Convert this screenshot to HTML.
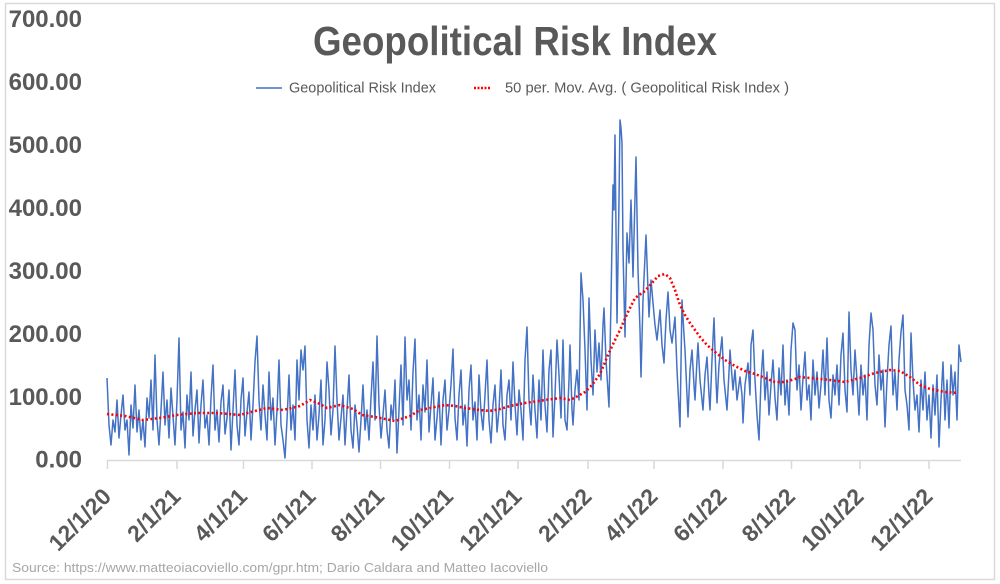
<!DOCTYPE html>
<html>
<head>
<meta charset="utf-8">
<style>
  html, body { margin: 0; padding: 0; background: #ffffff; }
  svg { display: block; }
  .ylab { font-family: "Liberation Sans", sans-serif; font-weight: bold; font-size: 24px; fill: #595959; }
  .xlab { font-family: "Liberation Sans", sans-serif; font-weight: bold; font-size: 23px; fill: #595959; }
</style>
</head>
<body>
<svg width="1000" height="584" viewBox="0 0 1000 584" xmlns="http://www.w3.org/2000/svg">
  <rect x="0" y="0" width="1000" height="584" fill="#ffffff"/>
  <rect x="5.5" y="3.5" width="989" height="576" fill="#ffffff" stroke="#D9D9D9" stroke-width="1.5"/>

  <!-- Title -->
  <text x="313" y="55" font-family="Liberation Sans, sans-serif" font-weight="bold" font-size="41" fill="#595959" textLength="404" lengthAdjust="spacingAndGlyphs">Geopolitical Risk Index</text>

  <!-- Legend -->
  <line x1="256" y1="88" x2="282" y2="88" stroke="#4472C4" stroke-width="1.6"/>
  <text x="289" y="92.5" font-family="Liberation Sans, sans-serif" font-size="14.5" fill="#595959" textLength="147" lengthAdjust="spacingAndGlyphs">Geopolitical Risk Index</text>
  <line x1="474" y1="88" x2="490" y2="88" stroke="#FF0000" stroke-width="2.5" stroke-dasharray="2 1.5"/>
  <text x="505" y="92.5" font-family="Liberation Sans, sans-serif" font-size="14.5" fill="#595959" textLength="284" lengthAdjust="spacingAndGlyphs">50 per. Mov. Avg. ( Geopolitical Risk Index )</text>

  <!-- Y axis labels -->
  <g class="ylab" text-anchor="end">
    <text x="82" y="27">700.00</text>
    <text x="82" y="90">600.00</text>
    <text x="82" y="153">500.00</text>
    <text x="82" y="216">400.00</text>
    <text x="82" y="279">300.00</text>
    <text x="82" y="342">200.00</text>
    <text x="82" y="405">100.00</text>
    <text x="82" y="467.5">0.00</text>
  </g>

  <!-- X axis -->
  <line x1="107" y1="460.5" x2="961" y2="460.5" stroke="#D9D9D9" stroke-width="1.5"/>
  <g stroke="#D9D9D9" stroke-width="1.5">
    <line x1="107.5" y1="460" x2="107.5" y2="469"/>
    <line x1="177" y1="460" x2="177" y2="469"/>
    <line x1="243.5" y1="460" x2="243.5" y2="469"/>
    <line x1="312" y1="460" x2="312" y2="469"/>
    <line x1="380.5" y1="460" x2="380.5" y2="469"/>
    <line x1="449.5" y1="460" x2="449.5" y2="469"/>
    <line x1="518" y1="460" x2="518" y2="469"/>
    <line x1="588" y1="460" x2="588" y2="469"/>
    <line x1="654" y1="460" x2="654" y2="469"/>
    <line x1="723" y1="460" x2="723" y2="469"/>
    <line x1="791.5" y1="460" x2="791.5" y2="469"/>
    <line x1="860" y1="460" x2="860" y2="469"/>
    <line x1="929" y1="460" x2="929" y2="469"/>
  </g>

  <g class="xlab" text-anchor="end">
    <text transform="translate(112.5,498) rotate(-45)">12/1/20</text>
    <text transform="translate(182,498) rotate(-45)">2/1/21</text>
    <text transform="translate(248.5,498) rotate(-45)">4/1/21</text>
    <text transform="translate(317,498) rotate(-45)">6/1/21</text>
    <text transform="translate(385.5,498) rotate(-45)">8/1/21</text>
    <text transform="translate(454.5,498) rotate(-45)">10/1/21</text>
    <text transform="translate(523,498) rotate(-45)">12/1/21</text>
    <text transform="translate(593,498) rotate(-45)">2/1/22</text>
    <text transform="translate(659,498) rotate(-45)">4/1/22</text>
    <text transform="translate(728,498) rotate(-45)">6/1/22</text>
    <text transform="translate(796.5,498) rotate(-45)">8/1/22</text>
    <text transform="translate(865,498) rotate(-45)">10/1/22</text>
    <text transform="translate(934,498) rotate(-45)">12/1/22</text>
  </g>

  <!-- Blue series -->
  <polyline fill="none" stroke="#4472C4" stroke-width="1.5" stroke-linejoin="round" points="
107,378 109,425 111,445 113,420 115,432 117,400 119,438 121,415 123,395 125,430 127,420 129,455 131,405 133,428 135,385 137,432 139,410 141,440 143,420 145,447 147,398 149,418 151,380 153,430 155,355 157,420 159,445 161,410 163,372 165,425 167,400 169,438 171,388 173,416 175,445 177,400 179,338 181,430 183,412 185,448 187,395 189,420 191,372 193,436 195,410 197,390 199,443 201,405 203,380 205,428 207,415 209,445 211,398 213,365 215,430 217,410 219,442 221,402 223,385 225,434 227,418 229,390 231,450 233,410 235,370 237,425 239,445 241,400 243,378 245,436 247,412 249,392 251,440 253,405 255,362 257,336 259,400 261,430 263,385 265,415 267,440 269,372 271,420 273,398 275,445 277,410 279,360 281,425 283,440 285,458 287,420 289,375 291,430 293,405 295,440 297,360 299,400 301,350 303,370 305,346 307,420 309,448 311,405 313,430 315,395 317,440 319,415 321,380 323,445 325,420 327,362 329,390 331,435 333,410 335,346 337,400 339,440 341,418 343,395 345,445 347,410 349,375 351,430 353,448 355,405 357,425 359,452
361,420 363,385 365,430 367,410 369,440 371,398 373,362 375,420 377,336 379,405 381,438 383,415 385,390 387,430 389,448 391,405 393,420 395,380 397,453 399,410 401,365 403,425 405,337 407,400 409,380 411,430 413,372 415,339 417,420 419,395 421,440 423,385 425,412 427,360 429,432 431,405 433,378 435,440 437,418 439,392 441,445 443,400 445,380 447,430 449,410 451,385 453,349 455,418 457,440 459,395 461,370 463,425 465,405 467,446 469,390 471,365 473,420 475,402 477,440 479,375 481,412 483,430 485,395 487,360 489,420 491,443 493,405 495,385 497,432 499,410 501,370 503,425 505,440 507,395 509,380 511,420 513,362 515,405 517,435 519,390 521,410 523,440 525,360 527,327 529,400 531,425 533,375 535,410 537,438 539,380 541,420 543,350 545,405 547,432 549,370 551,350 553,437 555,395 557,340 559,375 561,418 563,340 565,420 567,430 569,380 570,345 572,410 573,425 575,390 577,370 579,400
581,273 583,300 585,350 587,410 589,298 591,360 593,395 595,330 597,372 599,343 601,380 603,325 604,308 606,360 609,407 611,300 613,185 614,210 615,135 616,230 617,323 619,200 620,120 621,128 622,143 623,250 625,337 627,233 629,263 631,200 633,277 636,157 638,270 640,330 641,377 643,300 646,235 649,317 651,280 653,303 655,325 657,340 660,310 662,345 664,363 666,320 668,292 670,330 672,343 675,317 677,370 680,427 682,300 684,335 685,350 687,395 688,417 690,370 692,350 694,385 695,400 697,360 698,343 700,380 703,410 705,375 707,357 709,395 710,410 712,360 714,318 716,380 717,403 719,365 722,337 724,380 727,410 729,372 730,350 733,390 735,370 737,400 740,377 742,395 743,423 745,385 748,363 750,395 751,345 753,330 755,380 757,415 759,440
761,380 763,350 765,400 767,372 769,415 771,385 773,360 775,398 777,420 779,368 781,395 783,345 785,405 787,380 789,415 791,350 793,323 795,330 797,390 799,365 801,410 803,378 805,352 807,400 809,385 811,420 813,360 815,395 817,372 819,408 821,385 823,350 825,395 827,338 829,400 831,418 833,375 835,395 837,365 839,405 841,355 843,333 845,390 847,412 849,312 851,370 853,395 855,350 857,380 859,415 861,365 863,395 865,375 867,420 869,345 871,313 873,330 875,385 877,405 879,355 881,390 883,370 885,427 887,380 889,345 891,326 893,395 895,372 897,410 899,360 901,332 903,315 905,390 907,405 909,430 911,333 913,380 915,410
917,395 919,432 921,380 923,410 925,372 927,420 929,395 931,438 933,385 935,415 937,375 939,447 941,400 943,362 945,420 947,380 949,428 951,365 953,395 955,372 957,420 959,345 961,362"/>

  <!-- Moving average (dotted red) -->
  <polyline fill="none" stroke="#FF0000" stroke-width="2.6" stroke-dasharray="2 2.4" stroke-linejoin="round" points="
107,414 125,416 143,420 160,418 177,415 197,413 217,413 240,415 255,411 267,408 283,410 300,406 310,400 320,404 327,408 340,405 353,409 362,415 375,417 395,421 410,416 420,410 435,407 445,405 455,406 465,408 480,410 490,411 500,409 510,406 525,403 545,400 560,398 570,400 578,396 585,392 592,385 600,374 608,355 615,340 620,330 628,312 635,298 645,291 652,283 658,276 665,274 670,278 675,290 680,305 685,315 690,323 695,330 700,337 707,345 715,352 725,360 735,366 745,371 755,374 765,378 775,382 785,382 795,379 800,377 810,378 820,379 830,380 845,382 860,378 875,373 890,370 900,371 910,377 920,385 930,389 945,392 958,393"/>

  <!-- Source -->
  <text x="12" y="572" font-family="Liberation Sans, sans-serif" font-size="13" fill="#A6A6A6" textLength="536" lengthAdjust="spacingAndGlyphs">Source: https://www.matteoiacoviello.com/gpr.htm; Dario Caldara and Matteo Iacoviello</text>
</svg>
</body>
</html>
